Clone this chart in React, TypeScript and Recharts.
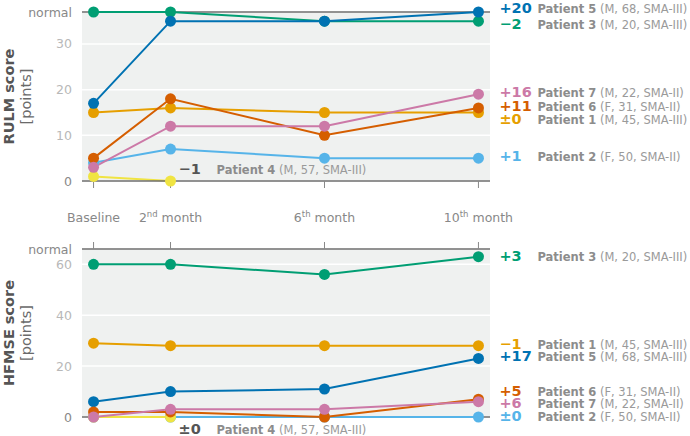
import { CartesianGrid, LabelList, Line, LineChart, ReferenceLine, XAxis, YAxis } from "recharts";

const FONT = "DejaVu Sans";

const months = [0, 2, 6, 10];
const monthLabels = ["Baseline", "2nd month", "6th month", "10th month"];

const patientNames = ["Patient 1", "Patient 2", "Patient 3", "Patient 4", "Patient 5", "Patient 6", "Patient 7"];
const patientInfo = [
  "(M, 45, SMA-III)",
  "(F, 50, SMA-II)",
  "(M, 20, SMA-III)",
  "(M, 57, SMA-III)",
  "(M, 68, SMA-III)",
  "(F, 31, SMA-II)",
  "(M, 22, SMA-II)",
];
const colors = ["#E69F00", "#56B4E9", "#009E73", "#F0E442", "#0072B2", "#D55E00", "#CC79A7"];
// yellow is too pale for text, so its change label is gray
const labelColors = ["#E69F00", "#56B4E9", "#009E73", "#555555", "#0072B2", "#D55E00", "#CC79A7"];

// RULM score per patient (baseline, 2nd, 6th, 10th month)
const rulmP1 = [15, 16, 15, 15];
const rulmP2 = [4, 7, 5, 5];
const rulmP3 = [37, 37, 35, 35];
const rulmP4 = [1, 0, null, null];
const rulmP5 = [17, 35, 35, 37];
const rulmP6 = [5, 18, 10, 16];
const rulmP7 = [3, 12, 12, 19];

// HFMSE score per patient
const hfmseP1 = [29, 28, 28, 28];
const hfmseP2 = [0, 0, 0, 0];
const hfmseP3 = [60, 60, 56, 63];
const hfmseP4 = [0, 0, null, null];
const hfmseP5 = [6, 10, 11, 23];
const hfmseP6 = [2, 2, 0, 7];
const hfmseP7 = [0, 3, 3, 6];

const rulmTicks = [0, 10, 20, 30, 37];
const hfmseTicks = [0, 20, 40, 60, 66];

// vertical nudges of the end labels (px), so they don't collide
const rulmLabelDy = [6.5, -2, 3, -12, -4, -2, -2];
const hfmseLabelDy = [-2, -1.5, -0.5, 12, -2, -8, 1];

const rulmSeries = [rulmP1, rulmP2, rulmP3, rulmP4, rulmP5, rulmP6, rulmP7];
const hfmseSeries = [hfmseP1, hfmseP2, hfmseP3, hfmseP4, hfmseP5, hfmseP6, hfmseP7];

function buildRows(series: (number | null)[][]) {
  return months.map((m, i) => {
    const row: any = { month: m };
    series.forEach((s, k) => {
      row["p" + (k + 1)] = s[i];
    });
    return row;
  });
}

function lastIndex(s: (number | null)[]) {
  let li = 0;
  s.forEach((v, i) => {
    if (v !== null) li = i;
  });
  return li;
}

function changeText(s: (number | null)[]) {
  const d = (s[lastIndex(s)] as number) - (s[0] as number);
  if (d === 0) return "\u00b10";
  return d > 0 ? "+" + d : "\u2212" + Math.abs(d);
}

const YTick = (props: any) => {
  const { x, y, payload, max } = props;
  const v = payload.value;
  const strong = v === max || v === 0;
  return (
    <text
      x={x}
      y={y}
      textAnchor="end"
      dominantBaseline="central"
      fontFamily={FONT}
      fontSize={12.5}
      fill={strong ? "#888888" : "#b8b8b8"}
    >
      {v === max ? "normal" : v}
    </text>
  );
};

const MonthTick = (props: any) => {
  const { x, y, payload } = props;
  const label = monthLabels[months.indexOf(payload.value)];
  const m = label.match(/^(\d+)(st|nd|rd|th)(.*)$/);
  return (
    <text x={x} y={y + 32} textAnchor="middle" fontFamily={FONT} fontSize={12.5} fill="#888888">
      {m ? (
        <>
          <tspan>{m[1]}</tspan>
          <tspan dy={-5} fontSize={8.5}>
            {m[2]}
          </tspan>
          <tspan dy={5}>{m[3]}</tspan>
        </>
      ) : (
        label
      )}
    </text>
  );
};

const NoTick = () => null;

const AxisTitle = (props: any) => {
  const { viewBox, title } = props;
  const cy = viewBox.y + viewBox.height / 2;
  return (
    <g>
      <text
        x={9}
        y={cy}
        transform={`rotate(-90, 9, ${cy})`}
        textAnchor="middle"
        dominantBaseline="central"
        fontFamily={FONT}
        fontWeight="bold"
        fontSize={14.5}
        fill="#555555"
      >
        {title}
      </text>
      <text
        x={26}
        y={cy}
        transform={`rotate(-90, 26, ${cy})`}
        textAnchor="middle"
        dominantBaseline="central"
        fontFamily={FONT}
        fontSize={14.5}
        fill="#6a6a6a"
      >
        [points]
      </text>
    </g>
  );
};

function endLabel(series: (number | null)[], k: number, dy: number) {
  const li = lastIndex(series);
  return (props: any) => {
    const { x, y, index } = props;
    if (index !== li || x == null || y == null) return null;
    const dx = li === months.length - 1 ? 21 : 8;
    const bx = x + dx;
    const by = y + dy + 5;
    return (
      <text x={bx} y={by} fontFamily={FONT}>
        <tspan fontWeight="bold" fontSize={14.5} fill={labelColors[k]}>
          {changeText(series)}
        </tspan>
        <tspan x={bx + 38} fontWeight="bold" fontSize={11.5} fill="#8c8c8c">
          {patientNames[k]}
        </tspan>
        <tspan fontSize={11.5} fill="#9a9a9a">
          {" " + patientInfo[k]}
        </tspan>
      </text>
    );
  };
}

function Panel(props: any) {
  const { series, ticks, title, labelDy, top } = props;
  const max = ticks[ticks.length - 1];
  const rows = buildRows(series);
  return (
    <LineChart
      width={690}
      height={top ? 230 : 206}
      data={rows}
      margin={top ? { top: 12, right: 200, bottom: 0, left: 0 } : { top: 0, right: 200, bottom: 19, left: 0 }}
    >
      <CartesianGrid vertical={false} fill="#eff1f0" stroke="#ffffff" strokeWidth={1.5} />
      <XAxis
        type="number"
        dataKey="month"
        domain={[-0.3, 10.3]}
        ticks={months}
        orientation={top ? "bottom" : "top"}
        height={top ? 49 : 19}
        tick={top ? <MonthTick /> : <NoTick />}
        tickSize={7}
        tickLine={{ stroke: "#888888" }}
        axisLine={{ stroke: "#6e6e6e", strokeWidth: 1.5 }}
        interval={0}
      />
      <YAxis
        type="number"
        domain={[0, max]}
        ticks={ticks}
        width={82}
        axisLine={false}
        tickLine={false}
        tickSize={0}
        tickMargin={10}
        tick={<YTick max={max} />}
        interval={0}
        label={<AxisTitle title={title} />}
      />
      {top ? (
        <ReferenceLine y={max} stroke="#6e6e6e" strokeWidth={1.5} />
      ) : (
        <ReferenceLine y={0} stroke="#6e6e6e" strokeWidth={1.5} />
      )}
      {series.map((s: (number | null)[], k: number) => (
        <Line
          key={k}
          type="linear"
          dataKey={"p" + (k + 1)}
          stroke={colors[k]}
          strokeWidth={2}
          dot={{ r: 5.5, fill: colors[k], stroke: colors[k], strokeWidth: 0 }}
          activeDot={false}
          isAnimationActive={false}
        >
          <LabelList dataKey={"p" + (k + 1)} content={endLabel(s, k, labelDy[k])} />
        </Line>
      ))}
    </LineChart>
  );
}

export default function App() {
  return (
    <div style={{ position: "absolute", left: 0, top: 0, width: 690, height: 436, background: "#ffffff", fontFamily: FONT }}>
      <Panel series={rulmSeries} ticks={rulmTicks} title="RULM score" labelDy={rulmLabelDy} top />
      <Panel series={hfmseSeries} ticks={hfmseTicks} title="HFMSE score" labelDy={hfmseLabelDy} top={false} />
    </div>
  );
}
